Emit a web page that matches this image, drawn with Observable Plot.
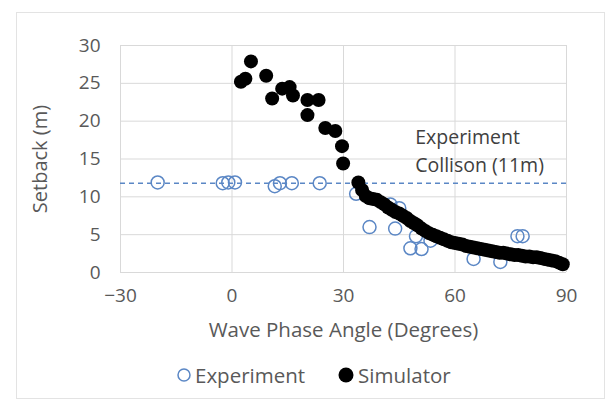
<!DOCTYPE html>
<html>
<head>
<meta charset="utf-8">
<script src="https://cdn.jsdelivr.net/npm/d3@7"></script>
<script src="https://cdn.jsdelivr.net/npm/@observablehq/plot@0.6"></script>
<style>
  html, body { margin: 0; padding: 0; background: #fff; }
  #wrap { position: relative; width: 608px; height: 403px; overflow: hidden; font-family: "Open Sans", Lato, sans-serif; }
  #frame { position: absolute; left: 16px; top: 12px; width: 589px; height: 387px; border: 1px solid #e3e3e3; box-sizing: border-box; pointer-events: none; }
  #chart { position: absolute; left: 0; top: 0; }
  #legend { position: absolute; left: 176px; top: 361px; display: flex; align-items: center; font-size: 20.5px; color: #595959; white-space: nowrap; }
  #legend .item { display: flex; align-items: center; margin-right: 32px; }
  #legend svg { margin-right: 3px; }
</style>
</head>
<body>
<div id="wrap">
  <div id="frame"></div>
  <div id="chart"></div>
  <div id="legend"></div>
</div>
<script>
// Experiment data (open blue circles)
const expX = [-20, -2.5, -1, 0.8, 11.5, 12.9, 16.1, 23.6, 33.4, 37, 42.6, 45, 43.9, 48, 51, 49.5, 53.4, 65, 72.2, 76.8, 78.2];
const expY = [11.9, 11.8, 11.9, 11.9, 11.4, 11.8, 11.8, 11.8, 10.4, 6.0, 9.0, 8.5, 5.8, 3.2, 3.1, 4.8, 4.2, 1.8, 1.4, 4.8, 4.8];

// Simulator data (filled black circles)
const simX = [2.4, 3.6, 5.1, 9.2, 10.8, 13.5, 15.5, 16.4, 20.3, 20.3, 23.3, 25.1, 27.8, 29.6, 29.9,
  34, 35, 36, 37, 38, 39, 40, 41, 42, 43, 44, 45, 46, 47, 48, 49, 50, 51, 52, 53, 54, 55, 56, 57, 58, 59,
  60, 61, 62, 63, 64, 65, 66, 67, 68, 69, 70, 71, 72, 73, 74, 75, 76, 77, 78, 79, 80, 81, 82, 83, 84, 85, 86, 87, 88, 89];
const simY = [25.2, 25.6, 27.9, 26.0, 23.0, 24.3, 24.5, 23.4, 22.8, 20.8, 22.8, 19.1, 18.7, 16.7, 14.4,
  11.9, 10.9, 10.1, 9.8, 9.7, 9.6, 9.3, 9.0, 8.6, 8.3, 8.0, 7.8, 7.5, 7.2, 6.8, 6.5, 6.2, 5.8, 5.5, 5.2, 5.0, 4.8, 4.6, 4.4, 4.2, 4.0,
  3.9, 3.8, 3.7, 3.5, 3.4, 3.3, 3.2, 3.1, 3.0, 2.9, 2.8, 2.7, 2.6, 2.6, 2.5, 2.4, 2.3, 2.3, 2.2, 2.1, 2.1, 2.0, 2.0, 1.9, 1.8, 1.7, 1.6, 1.5, 1.3, 1.1];

// Reference line (Experiment Collison)
const refY = 11.8;
const annotation = ["Experiment", "Collison (11m)"];
const annotX = 49.3;
const annotY = [17.85, 14.15];

// Axis ticks
const xTicks = [-30, 0, 30, 60, 90];
const yTicks = [0, 5, 10, 15, 20, 25, 30];

const seriesNames = ["Experiment", "Simulator"];

const expData = expX.map((x, i) => ({x, y: expY[i]}));
const simData = simX.map((x, i) => ({x, y: simY[i]}));
const annData = annotation.map((t, i) => ({t, y: annotY[i]}));

const blue = "#5b87c5";
const textColor = "#595959";
const gridColor = "#d9d9d9";

const chart = Plot.plot({
  width: 608,
  height: 350,
  marginLeft: 120,
  marginRight: 42,
  marginTop: 45,
  marginBottom: 78,
  style: { fontFamily: "'Open Sans', Lato, sans-serif", fontSize: "19px", color: textColor, background: "transparent" },
  x: { domain: [-30, 90], ticks: xTicks },
  y: { domain: [0, 30], ticks: yTicks },
  marks: [
    Plot.gridX(xTicks, { stroke: gridColor, strokeOpacity: 1, strokeWidth: 1 }),
    Plot.gridY(yTicks, { stroke: gridColor, strokeOpacity: 1, strokeWidth: 1 }),
    Plot.axisX({ ticks: xTicks, tickSize: 0, tickPadding: 16, fontSize: 19, label: null, fill: textColor }),
    Plot.axisX({ ticks: [], tickSize: 0, fontSize: 20.5, label: "Wave Phase Angle (Degrees)", labelAnchor: "center", labelOffset: 64, labelArrow: "none", fill: textColor }),
    Plot.axisY({ ticks: yTicks, tickSize: 0, tickPadding: 20, fontSize: 19, label: null, fill: textColor }),
    Plot.axisY({ ticks: [], tickSize: 0, fontSize: 20, label: "Setback (m)", labelAnchor: "center", labelOffset: 88, labelArrow: "none", fill: textColor }),
    Plot.ruleY([refY], { stroke: blue, strokeWidth: 1.5, strokeDasharray: "5,4" }),
    Plot.dot(expData, { x: "x", y: "y", r: 6.5, stroke: blue, strokeWidth: 1.5, fill: "white", fillOpacity: 0 }),
    Plot.dot(simData, { x: "x", y: "y", r: 7, fill: "black", stroke: "none" }),
    Plot.text(annData, { x: annotX, y: "y", text: "t", textAnchor: "start", fontSize: 19.5, fill: "#404040" })
  ]
});
document.getElementById("chart").appendChild(chart);

// Legend
const legend = document.getElementById("legend");
const symbols = [
  `<svg width="16" height="16"><circle cx="8" cy="8" r="6" fill="none" stroke="${blue}" stroke-width="1.5"/></svg>`,
  `<svg width="18" height="18"><circle cx="9" cy="9" r="7.5" fill="black"/></svg>`
];
seriesNames.forEach((name, i) => {
  const item = document.createElement("div");
  item.className = "item";
  item.innerHTML = symbols[i];
  const span = document.createElement("span");
  span.textContent = name;
  item.appendChild(span);
  legend.appendChild(item);
});
</script>
</body>
</html>
